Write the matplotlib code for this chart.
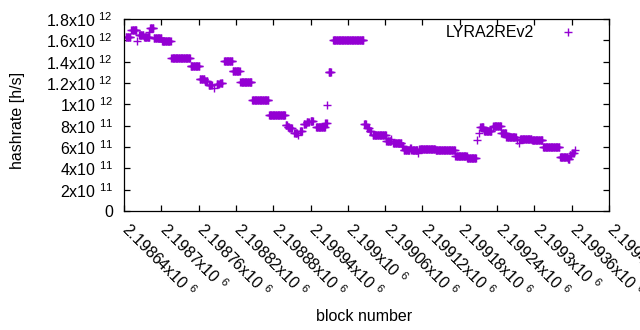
import numpy as np
import matplotlib
matplotlib.use("Agg")
import matplotlib.pyplot as plt
from matplotlib.transforms import ScaledTranslation

plt.rcParams['font.family'] = ['Liberation Sans', 'DejaVu Sans']
plt.rcParams['mathtext.fontset'] = 'custom'
plt.rcParams['mathtext.rm'] = 'Liberation Sans'
plt.rcParams['mathtext.it'] = 'Liberation Sans'
plt.rcParams['mathtext.bf'] = 'Liberation Sans'

# hashrate estimate, piecewise constant over block ranges
seg_start = [2198643, 2198652, 2198661, 2198664, 2198672, 2198680, 2198682, 2198688,
             2198701, 2198716, 2198747, 2198762, 2198770, 2198776, 2198785, 2198789,
             2198795, 2198801, 2198815, 2198827, 2198846, 2198873, 2198900, 2198903,
             2198906, 2198914, 2198920, 2198923, 2198929, 2198934, 2198940, 2198949,
             2198964, 2198967, 2198969, 2198976, 2199026, 2199031, 2199035, 2199040,
             2199062, 2199070, 2199073, 2199087, 2199090, 2199100, 2199102, 2199113,
             2199115, 2199141, 2199173, 2199192, 2199207, 2199211, 2199213, 2199219,
             2199233, 2199234, 2199247, 2199255, 2199272, 2199276, 2199277, 2199296,
             2199314, 2199341, 2199354, 2199357, 2199361, 2199365]
seg_end = [2198650, 2198660, 2198661, 2198671, 2198681, 2198680, 2198687, 2198700,
           2198715, 2198746, 2198761, 2198769, 2198774, 2198781, 2198785, 2198792,
           2198798, 2198814, 2198826, 2198845, 2198872, 2198899, 2198902, 2198905,
           2198910, 2198918, 2198920, 2198926, 2198932, 2198937, 2198944, 2198963,
           2198966, 2198967, 2198973, 2199025, 2199029, 2199034, 2199037, 2199061,
           2199069, 2199070, 2199086, 2199089, 2199099, 2199101, 2199112, 2199113,
           2199140, 2199172, 2199191, 2199206, 2199207, 2199211, 2199218, 2199231,
           2199233, 2199246, 2199254, 2199270, 2199272, 2199276, 2199295, 2199313,
           2199340, 2199353, 2199356, 2199359, 2199363, 2199365]
seg_value = [1.634e12, 1.697e12, 1.594e12, 1.650e12, 1.628e12, 1.680e12, 1.720e12, 1.619e12,
             1.594e12, 1.431e12, 1.359e12, 1.234e12, 1.220e12, 1.184e12, 1.156e12, 1.188e12,
             1.200e12, 1.403e12, 1.310e12, 1.206e12, 1.038e12, 0.897e12, 0.806e12, 0.790e12,
             0.775e12, 0.728e12, 0.710e12, 0.750e12, 0.813e12, 0.831e12, 0.844e12, 0.785e12,
             0.822e12, 0.994e12, 1.300e12, 1.600e12, 0.816e12, 0.775e12, 0.750e12, 0.710e12,
             0.656e12, 0.678e12, 0.634e12, 0.610e12, 0.572e12, 0.594e12, 0.572e12, 0.540e12,
             0.581e12, 0.572e12, 0.516e12, 0.494e12, 0.666e12, 0.728e12, 0.790e12, 0.753e12,
             0.790e12, 0.797e12, 0.728e12, 0.697e12, 0.666e12, 0.640e12, 0.675e12, 0.666e12,
             0.597e12, 0.509e12, 0.490e12, 0.525e12, 0.547e12, 0.572e12]

x_ticks = np.arange(2198640, 2199421, 60)
y_ticks = [0, 2e11, 4e11, 6e11, 8e11, 1e12, 1.2e12, 1.4e12, 1.6e12, 1.8e12]
y_labels = ['0', '2x10 $^{11}$', '4x10 $^{11}$', '6x10 $^{11}$', '8x10 $^{11}$',
            '1x10 $^{12}$', '1.2x10 $^{12}$', '1.4x10 $^{12}$', '1.6x10 $^{12}$',
            '1.8x10 $^{12}$']

blocks = []
rates = []
for s, e, v in zip(seg_start, seg_end, seg_value):
    for b in range(s, e + 1):
        blocks.append(b)
        rates.append(v)

fs = 11.5
fig = plt.figure(figsize=(6.4, 3.3), dpi=100)
ax = fig.add_axes([124/640, 1-211/330, 485/640, 192/330])

color = '#9400D3'
ax.plot(blocks, rates, linestyle='none', marker='+', markersize=6,
        markeredgewidth=1.0, color=color, label='LYRA2REv2')

ax.set_xlim(2198640, 2199420)
ax.set_ylim(0, 1.8e12)
ax.set_xticks(x_ticks)
ax.set_xticklabels(['%gx10 $^{6}$' % (t / 1e6) for t in x_ticks],
                   rotation=-45, ha='left', va='top', rotation_mode='anchor')
ax.set_yticks(y_ticks)
ax.set_yticklabels(y_labels)
ax.tick_params(direction='in', length=4, width=0.9, top=True, right=True,
               labelsize=fs, colors='black')
ax.tick_params(axis='y', pad=8)
ax.tick_params(axis='x', pad=6)
shift = ScaledTranslation(8/100, 0, fig.dpi_scale_trans)
for lab in ax.get_xticklabels():
    lab.set_transform(lab.get_transform() + shift)
for sp in ax.spines.values():
    sp.set_linewidth(0.9)

ax.set_ylabel('hashrate [h/s]', fontsize=fs, va='center')
ax.yaxis.set_label_coords(-0.22, 0.474)
ax.set_xlabel('block number', fontsize=fs, va='center')
ax.xaxis.set_label_coords(0.495, -0.547)

ax.legend(loc='upper right', bbox_to_anchor=(0.961, 1.0), borderaxespad=0,
          frameon=False, markerfirst=False, numpoints=1, handlelength=2,
          handletextpad=1.1, fontsize=fs)

fig.savefig('out.png', dpi=100)
